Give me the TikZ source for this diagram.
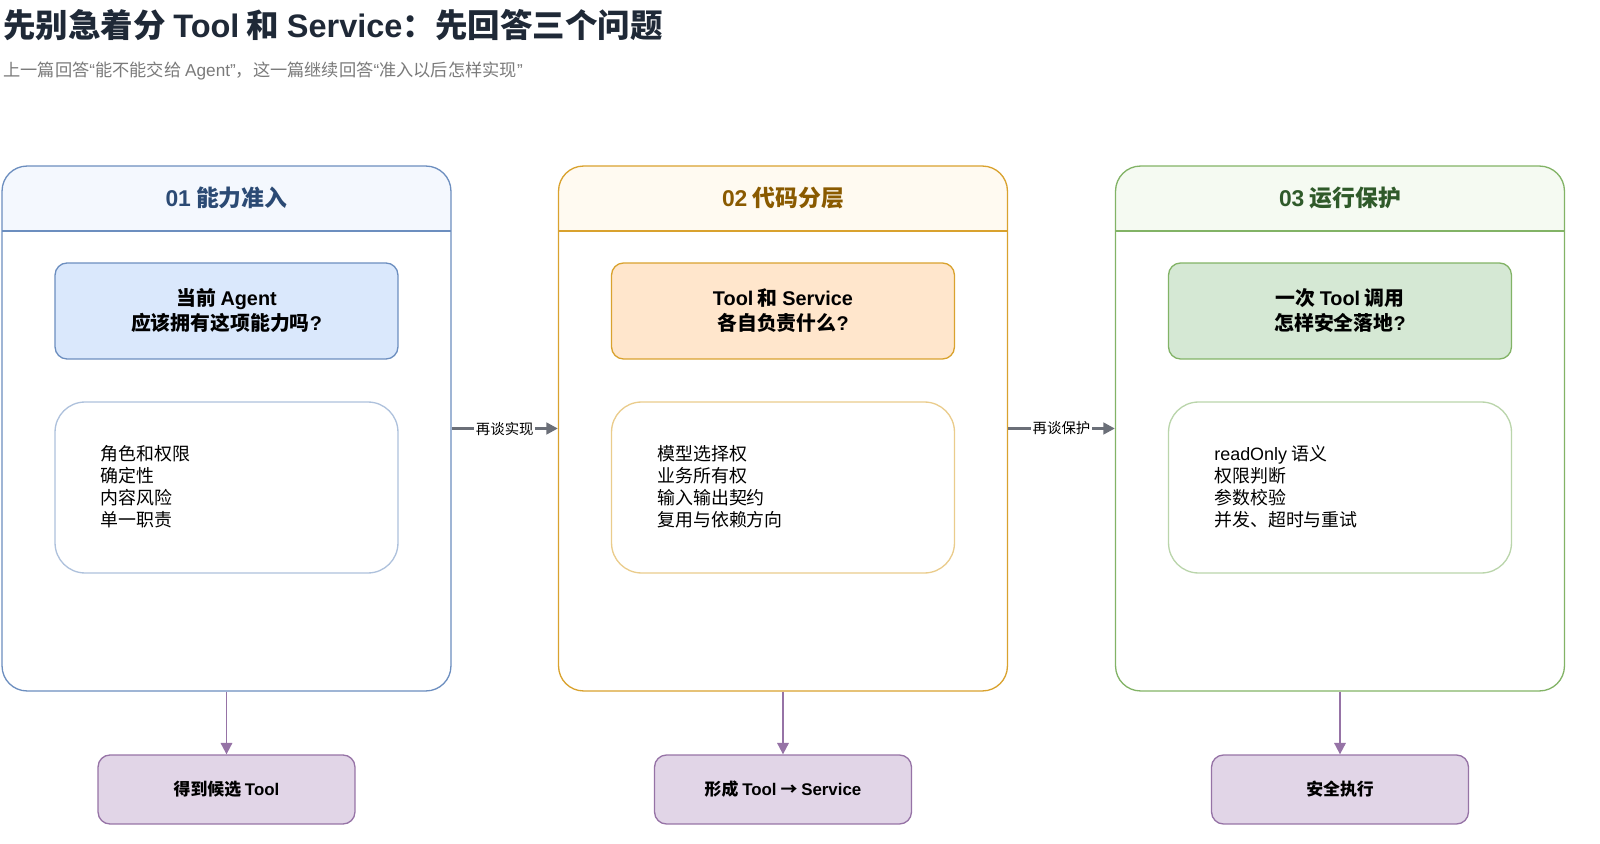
\documentclass[tikz,border=0pt]{standalone}
\usepackage{fontspec}
\setmainfont{Noto Sans CJK SC}
\newfontfamily\latinfont{Liberation Sans}[BoldFont={Liberation Sans Bold}]
\newcommand{\en}[1]{{\latinfont #1}}
\usetikzlibrary{arrows.meta}

\definecolor{bluel}{HTML}{6C8EBF}
\definecolor{bluef}{HTML}{DAE8FC}
\definecolor{blueh}{HTML}{F4F8FE}
\definecolor{bluet}{HTML}{2B4A74}
\definecolor{orgl}{HTML}{D9A22E}
\definecolor{orgf}{HTML}{FFE6CC}
\definecolor{orgh}{HTML}{FFFAF1}
\definecolor{orgt}{HTML}{8A5A00}
\definecolor{grnl}{HTML}{82B366}
\definecolor{grnf}{HTML}{D5E8D4}
\definecolor{grnh}{HTML}{F5FAF2}
\definecolor{grnt}{HTML}{2F5A2A}
\definecolor{purl}{HTML}{9673A6}
\definecolor{purf}{HTML}{E1D5E7}
\definecolor{flowc}{HTML}{6B6F78}
\definecolor{titlec}{HTML}{1F2937}

\tikzset{
  panel/.style n args={2}{draw=#1, line width=0.75pt, rounded corners=0.5cm,
    minimum width=8.98cm, minimum height=10.5cm, inner sep=0pt,
    path picture={
      \fill[#2, sharp corners] (path picture bounding box.north west) rectangle ([yshift=-1.3cm]path picture bounding box.north east);
      \draw[#1, line width=0.75pt, sharp corners] ([yshift=-1.3cm]path picture bounding box.north west) -- ([yshift=-1.3cm]path picture bounding box.north east);
    }},
  hdr/.style={font=\fontsize{13}{16}\selectfont\bfseries, inner sep=0pt},
  qbox/.style={line width=0.75pt, rounded corners=0.24cm, minimum width=6.86cm,
    minimum height=1.92cm, align=center, inner sep=0pt,
    font=\fontsize{11.3}{14.2}\selectfont\bfseries},
  listbox/.style={line width=0.75pt, rounded corners=0.6cm, minimum width=6.86cm,
    minimum height=3.42cm, inner sep=0pt},
  items/.style={anchor=west, align=left, inner sep=0pt,
    font=\fontsize{10.2}{12.5}\selectfont},
  outbox/.style={draw=purl, fill=purf, line width=0.75pt, rounded corners=0.24cm,
    minimum width=5.14cm, minimum height=1.38cm, inner sep=0pt,
    font=\fontsize{9.6}{12}\selectfont\bfseries},
  flow/.style={draw=flowc, line width=1.7pt, -{Triangle[length=6.5pt,width=6.5pt]}},
  down/.style={draw=purl, line width=1.1pt, -{Triangle[length=6.5pt,width=6.5pt]}}
}

\begin{document}
\begin{tikzpicture}[x=0.02cm, y=-0.02cm]
    \useasboundingbox (0,0) rectangle (1600,844);

    % Title
    \node[anchor=west, inner sep=0pt, text=titlec, font=\fontsize{18.5}{22}\selectfont\bfseries] (title) at (3,25) {先别急着分 \en{Tool} 和 \en{Service}：先回答三个问题};
    \node[anchor=west, inner sep=0pt, text=black!52, font=\fontsize{9.8}{12}\selectfont] (sub) at (3,71) {上一篇回答\en{“}能不能交给 \en{Agent”}，这一篇继续回答\en{“}准入以后怎样实现\en{”}};

    % Panels
    \node[panel={bluel}{blueh}] (p1) at (226.5,428.5) {};
    \node[panel={orgl}{orgh}] (p2) at (783,428.5) {};
    \node[panel={grnl}{grnh}] (p3) at (1340,428.5) {};

    \node[hdr, text=bluet] (h1) at (226.5,198) {\en{01} 能力准入};
    \node[hdr, text=orgt] (h2) at (783,198) {\en{02} 代码分层};
    \node[hdr, text=grnt] (h3) at (1340,198) {\en{03} 运行保护};

    % Questions
    \node[qbox, draw=bluel, fill=bluef] (q1) at (226.5,311) {当前 \en{Agent}\\应该拥有这项能力吗\en{?}};
    \node[qbox, draw=orgl, fill=orgf] (q2) at (783,311) {\en{Tool} 和 \en{Service}\\各自负责什么\en{?}};
    \node[qbox, draw=grnl, fill=grnf] (q3) at (1340,311) {一次 \en{Tool} 调用\\怎样安全落地\en{?}};

    % Lists
    \node[listbox, draw=bluel!55, fill=white] (l1) at (226.5,487.5) {};
    \node[listbox, draw=orgl!55, fill=white] (l2) at (783,487.5) {};
    \node[listbox, draw=grnl!55, fill=white] (l3) at (1340,487.5) {};

    \node[items] (t1) at (100,487) {角色和权限\\确定性\\内容风险\\单一职责};
    \node[items] (t2) at (657,487) {模型选择权\\业务所有权\\输入输出契约\\复用与依赖方向};
    \node[items] (t3) at (1214,487) {\en{readOnly} 语义\\权限判断\\参数校验\\并发、超时与重试};

    % Results
    \node[outbox] (o1) at (226.5,789.5) {得到候选 \en{Tool}};
    \node[outbox] (o2) at (783,789.5) {形成 \en{Tool} → \en{Service}};
    \node[outbox] (o3) at (1340,789.5) {安全执行};

    % Arrows
    \draw[flow] (p1) -- (p2) node[midway, fill=white, inner sep=1pt, text=black, font=\fontsize{8.2}{10}\selectfont] {再谈实现};
    \draw[flow] (p2) -- (p3) node[midway, fill=white, inner sep=1pt, text=black, font=\fontsize{8.2}{10}\selectfont] {再谈保护};
    \draw[down] (p1) -- (o1);
    \draw[down] (p2) -- (o2);
    \draw[down] (p3) -- (o3);
\end{tikzpicture}
\end{document}
